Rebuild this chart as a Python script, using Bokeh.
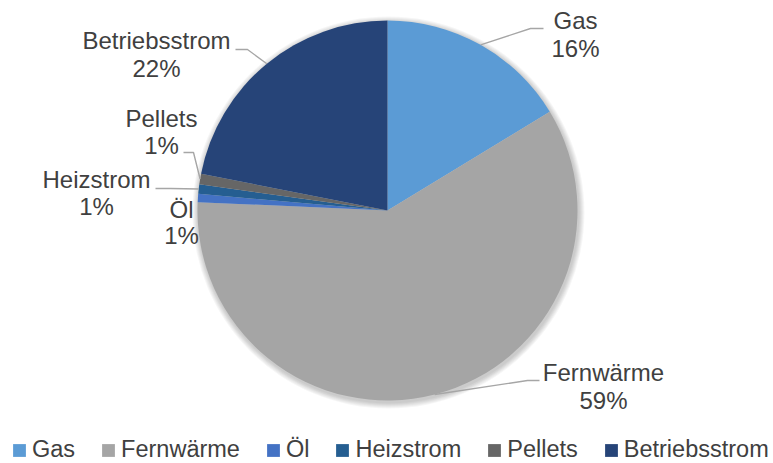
import math
from bokeh.plotting import figure
from bokeh.models import Range1d, Legend, LegendItem, ColumnDataSource
from bokeh.embed import file_html
from bokeh.resources import INLINE
from bokeh.core.properties import value

# ---- data ----
categories = ["Gas", "Fernwärme", "Öl", "Heizstrom", "Pellets", "Betriebsstrom"]
shares = [16.3, 59.4, 0.7, 0.8, 0.9, 21.9]
colors = ["#5B9BD5", "#A5A5A5", "#4472C4", "#255E91", "#666666", "#264478"]

# ---- layout (image pixel coordinates) ----
W, H = 773, 463
def X(px):
    return px
def Y(py):
    return H - py

BASE_ADJ = -8  # text baseline correction
CX, CY, R = X(387), Y(210), 190
FONT = "Liberation Sans"
TXT = "#404040"

# label centre x, baseline of name, baseline of percentage
label_layout = {
    "Gas": (575, 28, 56),
    "Fernwärme": (603, 380, 408),
    "Öl": (181, 217, 243),
    "Heizstrom": (96, 187, 214),
    "Pellets": (161, 126, 153),
    "Betriebsstrom": (156, 48, 76),
}
# leader: elbow point, end point near label
leader_layout = {
    "Gas": ((530, 28), (543, 28)),
    "Fernwärme": ((527, 380), (539, 380)),
    "Heizstrom": ((170, 188), (155, 188)),
    "Pellets": ((193, 152), (183, 152)),
    "Betriebsstrom": ((247, 49), (235, 49)),
}

total = sum(shares)
starts, ends, mids = [], [], []
cum = 0.0
for s in shares:
    a0 = math.pi / 2 - 2 * math.pi * cum / total
    cum += s
    a1 = math.pi / 2 - 2 * math.pi * cum / total
    starts.append(a1)
    ends.append(a0)
    mids.append((a0 + a1) / 2)

p = figure(width=W, height=H, x_range=Range1d(0, W), y_range=Range1d(0, H),
           output_backend="svg", toolbar_location=None, min_border=0)
p.axis.visible = False
p.grid.visible = False
p.outline_line_color = None
p.background_fill_color = "white"
p.border_fill_color = "white"

# soft shadow
for dr in [6, 5, 4, 3, 2, 1]:
    p.circle(x=[CX + 1], y=[CY - 2], radius=R + dr, fill_color="black",
             fill_alpha=0.035, line_color=None)

src = ColumnDataSource(dict(x=[CX] * len(shares), y=[CY] * len(shares),
                            start=starts, end=ends, color=colors, cat=categories))
wr = p.wedge(x="x", y="y", radius=R, start_angle="start", end_angle="end",
             fill_color="color", line_color=None, source=src)

# leader lines
for i, c in enumerate(categories):
    if c not in leader_layout:
        continue
    (ex, ey), (tx, ty) = leader_layout[c]
    px0 = CX + R * math.cos(mids[i])
    py0 = CY + R * math.sin(mids[i])
    p.line(x=[px0, X(ex), X(tx)], y=[py0, Y(ey), Y(ty)], line_color="#A6A6A6",
           line_width=1.4)

# labels
for i, c in enumerate(categories):
    lx, b1, b2 = label_layout[c]
    pct = f"{round(shares[i] / total * 100):d}%"
    p.text(x=[X(lx), X(lx)], y=[Y(b1 + BASE_ADJ), Y(b2 + BASE_ADJ)], text=[c, pct],
           text_align="center", text_baseline="alphabetic", text_font_size="24px",
           text_color=TXT, text_font=value(FONT))

items = [LegendItem(label=c, renderers=[wr], index=i) for i, c in enumerate(categories)]
legend = Legend(items=items, orientation="horizontal", location=(X(11), 0),
                glyph_width=16, glyph_height=16, label_standoff=5, spacing=25,
                padding=0, margin=0, border_line_alpha=0, background_fill_alpha=0,
                label_text_font_size="23.5px", label_text_color=TXT,
                label_text_font=FONT, label_height=16, label_text_line_height=1.0)
p.add_layout(legend)

open("out.html", "w").write(file_html(p, INLINE))
